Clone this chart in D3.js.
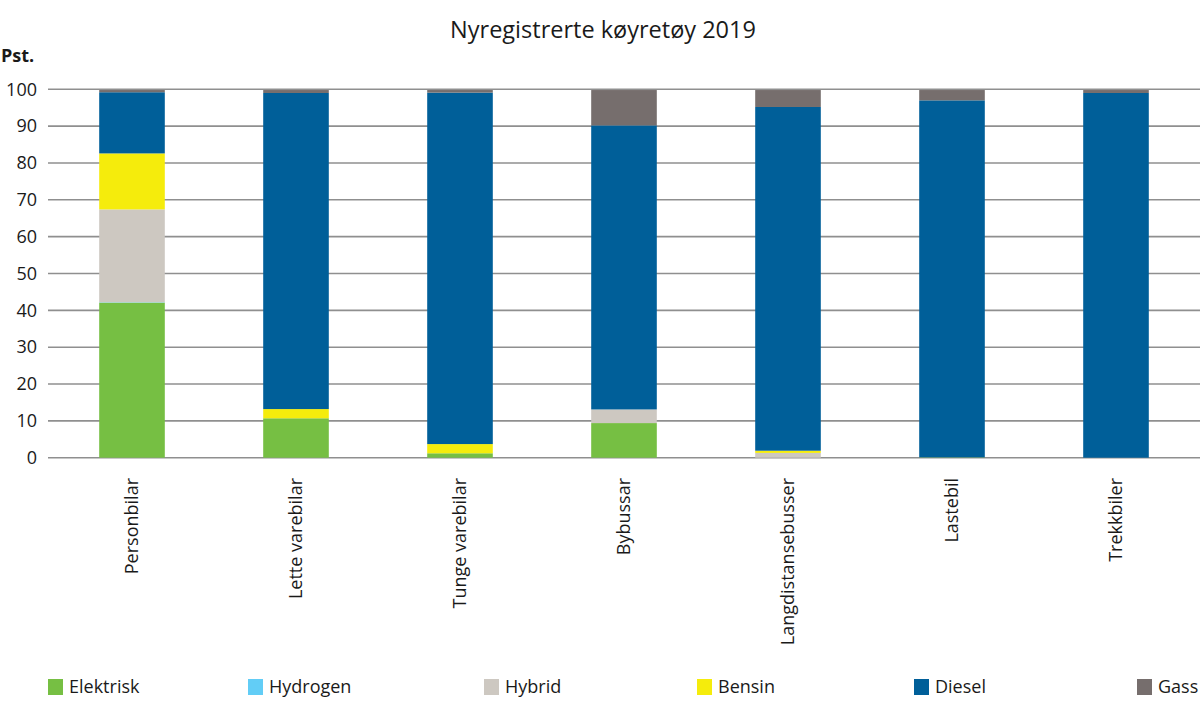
<!DOCTYPE html>
<html>
<head>
<meta charset="utf-8">
<script src="https://d3js.org/d3.v7.min.js"></script>
<style>
body{margin:0;background:#fff}
text{font-family:"Open Sans",sans-serif;fill:#1a1a1a}
</style>
</head>
<body>
<script>
var categories=["Personbilar","Lette varebilar","Tunge varebilar","Bybussar","Langdistansebusser","Lastebil","Trekkbiler"]
var seriesNames=["Elektrisk","Hydrogen","Hybrid","Bensin","Diesel","Gass"]
var colors=["#76bf43","#62cdf6","#cdc8c1","#f5ec0c","#005f99","#766e6d"]
var elektrisk=[42.1,10.7,1.2,9.4,0,0.1,0]
var hydrogen=[0.1,0,0,0,0,0,0]
var hybrid=[25.2,0,0,3.7,1.3,0,0]
var bensin=[15.2,2.5,2.5,0,0.6,0,0]
var diesel=[16.6,85.8,95.4,77.1,93.3,96.9,99.0]
var gass=[0.6,0.8,0.7,9.6,4.6,2.8,0.8]
var yTicks=[0,10,20,30,40,50,60,70,80,90,100]

var screen={width:1200,height:714}
var svg=d3.select("body").append("svg").attr("width",screen.width).attr("height",screen.height)

var data=categories.map(function(c,i){
  return {cat:c,Elektrisk:elektrisk[i],Hydrogen:hydrogen[i],Hybrid:hybrid[i],Bensin:bensin[i],Diesel:diesel[i],Gass:gass[i]}
})
var stack=d3.stack().keys(seriesNames)(data)

var xScale=d3.scaleBand().domain(categories).range([50,1198]).paddingInner(0.6).paddingOuter(0.3)
var yScale=d3.scaleLinear().domain([0,100]).range([457.7,89.3])

// title
svg.append("text").attr("x",603).attr("y",38).attr("text-anchor","middle")
   .style("font-size","23.5px").text("Nyregistrerte køyretøy 2019")
svg.append("text").attr("x",1).attr("y",62).style("font-size","18px").style("font-weight","bold").text("Pst.")

// grid
svg.append("g").selectAll("line").data(yTicks).enter().append("line")
   .attr("x1",48).attr("x2",1200)
   .attr("y1",function(d){return yScale(d)}).attr("y2",function(d){return yScale(d)})
   .style("stroke","#8f8f8f").style("stroke-width",1.6)

var yAxis=d3.axisLeft(yScale).tickValues(yTicks).tickSize(0).tickPadding(0)
var yg=svg.append("g").attr("transform","translate(37,0)").call(yAxis)
yg.select(".domain").remove()
yg.selectAll("text").style("font-size","18px").style("font-family","Open Sans").attr("fill","#1a1a1a")

// bars
svg.append("g").selectAll("g").data(stack).enter().append("g")
   .attr("fill",function(d,i){return colors[i]})
   .selectAll("rect").data(function(d){return d}).enter().append("rect")
   .attr("x",function(d){return xScale(d.data.cat)})
   .attr("width",xScale.bandwidth())
   .attr("y",function(d){return yScale(d[1])})
   .attr("height",function(d){return yScale(d[0])-yScale(d[1])})

// category labels
svg.append("g").selectAll("text").data(categories).enter().append("text")
   .attr("transform",function(d){return "translate("+(xScale(d)+xScale.bandwidth()/2+6)+",478) rotate(-90)"})
   .attr("text-anchor","end").style("font-size","18px").text(function(d){return d})

// legend
var legendX=[48,248,484,697,914,1137]
var lg=svg.append("g").selectAll("g").data(seriesNames).enter().append("g")
   .attr("transform",function(d,i){return "translate("+legendX[i]+",679)"})
lg.append("rect").attr("width",15).attr("height",16).attr("fill",function(d,i){return colors[i]})
lg.append("text").attr("x",21).attr("y",14).style("font-size","18px").text(function(d){return d})
</script>
</body>
</html>
